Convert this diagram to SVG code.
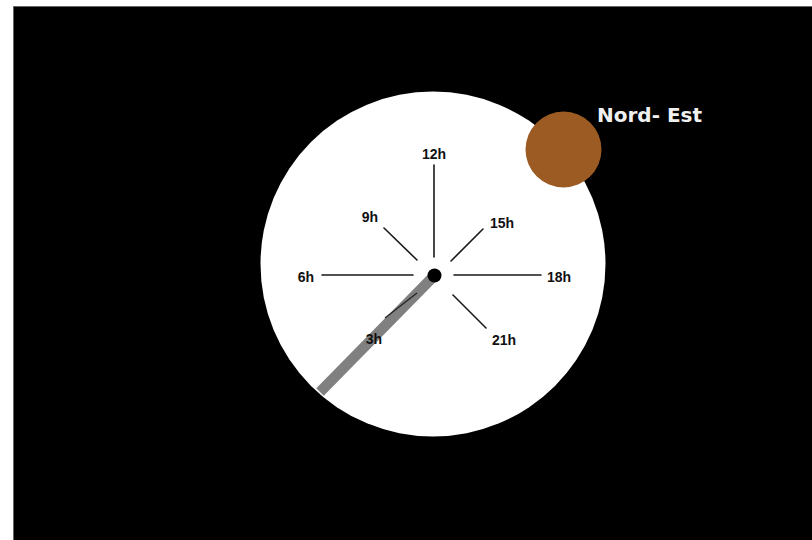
<svg xmlns="http://www.w3.org/2000/svg" width="812" height="540" viewBox="0 0 812 540">
<style>
.tick{stroke:#1a1a1a;stroke-width:1.6;stroke-linecap:round}
.lbl{font-family:"Liberation Sans",Arial,sans-serif;font-size:14px;font-weight:bold;fill:#111}
</style>
<rect x="0" y="0" width="812" height="540" fill="#ffffff"/>
<rect x="13.5" y="6.5" width="800" height="540" fill="#000000" stroke="#666" stroke-width="1"/>
<g id="dial">
<circle cx="433" cy="264" r="172.5" fill="#ffffff"/>
</g>
<g id="ticks">
<line class="tick" x1="434" y1="165" x2="434" y2="257"/>
<line class="tick" x1="322" y1="275" x2="413" y2="275"/>
<line class="tick" x1="454" y1="275" x2="541" y2="275"/>
<line class="tick" x1="384" y1="228" x2="417" y2="260"/>
<line class="tick" x1="483" y1="229" x2="451" y2="261"/>
<line class="tick" x1="453" y1="295" x2="486" y2="328"/>
</g>
<g id="hand">
<line x1="433" y1="277" x2="320" y2="392" stroke="#808080" stroke-width="10.5"/>
<line x1="417" y1="293" x2="385" y2="318" stroke="#222" stroke-width="1.2"/>
<circle cx="434.5" cy="275.5" r="7" fill="#000"/>
</g>
<g id="labels">
<text class="lbl" x="434" y="159" text-anchor="middle">12h</text>
<text class="lbl" x="370" y="222" text-anchor="middle">9h</text>
<text class="lbl" x="502" y="228" text-anchor="middle">15h</text>
<text class="lbl" x="306" y="282" text-anchor="middle">6h</text>
<text class="lbl" x="559" y="282" text-anchor="middle">18h</text>
<text class="lbl" x="374" y="344" text-anchor="middle">3h</text>
<text class="lbl" x="504" y="345" text-anchor="middle">21h</text>
</g>
<g id="sun">
<circle cx="563.5" cy="149.5" r="38" fill="#9c5b22"/>
</g>
<g id="nord-est">
<text x="597" y="122" font-family="'DejaVu Sans',Verdana,sans-serif" font-weight="bold" font-size="20" fill="#f0f0f0">Nord- Est</text>
</g>
</svg>
